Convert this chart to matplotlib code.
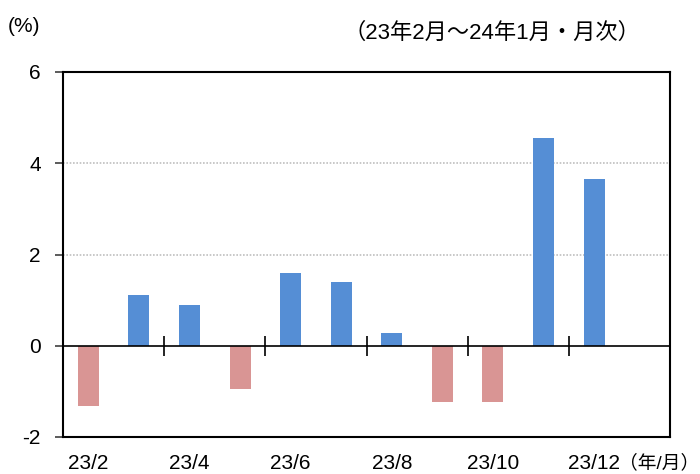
import matplotlib
matplotlib.use('Agg')
import matplotlib.pyplot as plt

plt.rcParams['font.family'] = ['Liberation Sans', 'Noto Sans CJK JP', 'DejaVu Sans']
CJK = ['Liberation Sans', 'Noto Sans CJK JP', 'DejaVu Sans']

months = ['23/2', '23/3', '23/4', '23/5', '23/6', '23/7', '23/8',
          '23/9', '23/10', '23/11', '23/12', '24/1']
values = [-1.33, 1.12, 0.90, -0.94, 1.60, 1.40, 0.28,
          -1.23, -1.24, 4.56, 3.66, 0.0]
y_ticks = [-2, 0, 2, 4, 6]

BLUE = '#558ED5'
RED = '#D99594'

fig = plt.figure(figsize=(7, 4.74), dpi=100)
ax = fig.add_axes([63 / 700, 37 / 474, 607 / 700, 365 / 474])

x = list(range(len(months)))
colors = [BLUE if v >= 0 else RED for v in values]
ax.bar(x, values, width=0.415, color=colors, zorder=2)

ax.set_xlim(-0.5, len(months) - 0.5)
ax.set_ylim(-2, 6)

# dotted grid at 2 and 4
for yv in y_ticks:
    if 0 < yv < 6:
        ax.axhline(yv, color='#BFBFBF', lw=1.2, ls=(0, (1, 1)), zorder=1)

# zero axis with tick marks on category boundaries
ax.axhline(0, color='black', lw=1.2, zorder=3)
bounds = [i + 0.5 for i in x[1:-1:2]]
ax.plot(bounds, [0] * len(bounds), ls='none', marker='|', ms=14,
        mew=1.2, color='black', zorder=3)

ax.set_yticks(y_ticks)
ax.set_yticklabels([str(v) for v in y_ticks], fontsize=15)
ax.tick_params(axis='y', length=6, width=1.2, color='#404040', pad=10)

ax.set_xticks(x[::2])
ax.set_xticklabels(months[::2], fontsize=15)
ax.tick_params(axis='x', length=0, pad=12)

for s in ax.spines.values():
    s.set_linewidth(1.5)
    s.set_color('black')

fig.text(8 / 700, 1 - 27 / 474, '(%)', fontsize=15, va='center', ha='left')
fig.text(640 / 700, 1 - 33 / 474, '（23年2月～24年1月・月次）', fontsize=16,
         va='center', ha='right', family=CJK)
fig.text(619 / 700, 1 - 463 / 474, '（年/月）', fontsize=13.5, va='center',
         ha='left', family=CJK)

fig.savefig('out.png', dpi=100)
